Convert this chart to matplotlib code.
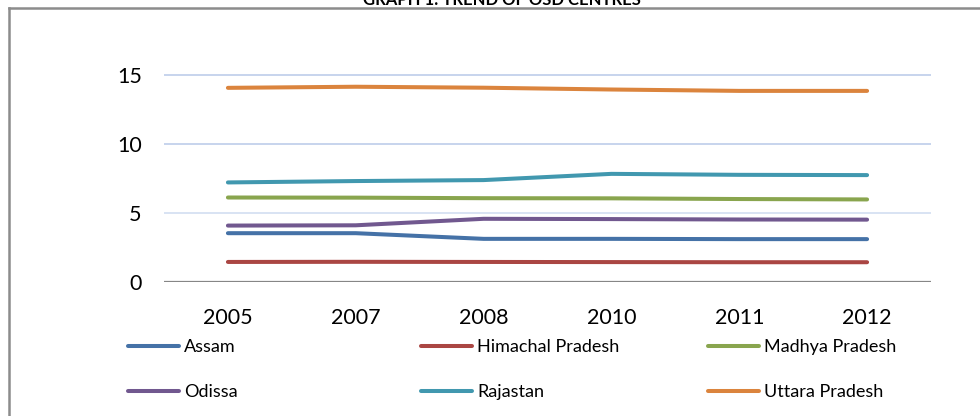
import matplotlib
matplotlib.use('Agg')
import matplotlib.pyplot as plt
from matplotlib.lines import Line2D

plt.rcParams['font.family'] = ['Lato', 'DejaVu Sans']

YEARS = ['2005', '2007', '2008', '2010', '2011', '2012']
STATES = ['Assam', 'Himachal Pradesh', 'Madhya Pradesh',
          'Odissa', 'Rajastan', 'Uttara Pradesh']

assam     = [3.53, 3.53, 3.12, 3.12, 3.10, 3.10]
himachal  = [1.45, 1.46, 1.45, 1.44, 1.43, 1.43]
madhya    = [6.11, 6.10, 6.06, 6.05, 6.00, 5.97]
odissa    = [4.08, 4.10, 4.57, 4.55, 4.52, 4.51]
rajastan  = [7.20, 7.30, 7.37, 7.82, 7.75, 7.73]
uttara    = [14.04, 14.12, 14.05, 13.92, 13.82, 13.82]

SERIES = [assam, himachal, madhya, odissa, rajastan, uttara]
COLORS = ['#4572A7', '#AA4643', '#89A54E', '#71588F', '#4198AF', '#DB843D']

W, H = 980, 416
fig = plt.figure(figsize=(W / 100, H / 100), dpi=100)
ax = fig.add_axes([164 / W, 1 - 282 / H, (931 - 164) / W, (282 - 40) / H])

x = list(range(len(YEARS)))
handles = []
for vals, c, name in zip(SERIES, COLORS, STATES):
    h, = ax.plot(x, vals, color=c, lw=2.9, solid_capstyle='round',
                 solid_joinstyle='round', label=name, zorder=3)
    handles.append(h)

ax.set_xlim(-0.5, len(YEARS) - 0.5)
ax.set_ylim(0, 17.5)
ax.set_yticks([0, 5, 10, 15])
ax.set_xticks(x)
ax.set_xticklabels(YEARS)
for y, gc in [(5, '#D6E0F2'), (10, '#C3D1EC'), (15, '#C3D1EC')]:
    ax.axhline(y, color=gc, lw=1.3, zorder=1)
ax.axhline(0, color='#868686', lw=1.6, zorder=2)
for s in ax.spines.values():
    s.set_visible(False)
ax.tick_params(axis='both', length=0, labelsize=15.5, colors='black')
ax.tick_params(axis='y', pad=16)
ax.tick_params(axis='x', pad=19)

# legend: three equal-width columns, two rows each
col_x = [128, 421, 708]
for i, cx in enumerate(col_x):
    fig.legend([handles[i], handles[i + 3]], [STATES[i], STATES[i + 3]],
               loc='upper left', bbox_to_anchor=(cx / W, 1 - 339 / H),
               frameon=False, fontsize=13, borderpad=0, borderaxespad=0,
               handlelength=2.85, handletextpad=0.25, labelspacing=1.6)

# chart frame (cropped) and title peeking above it
fig.add_artist(Line2D([9 / W, 9 / W], [0, 1 - 8 / H], color='#8C8C8C', lw=1.8))
fig.add_artist(Line2D([9 / W, 1], [1 - 8 / H, 1 - 8 / H], color='#8C8C8C', lw=1.8))
fig.text(502 / W, 1 - 5 / H, 'GRAPH 1: TREND OF OSD CENTRES', ha='center',
         va='baseline', fontsize=12, fontweight='bold')

fig.savefig('out.png', dpi=100)
